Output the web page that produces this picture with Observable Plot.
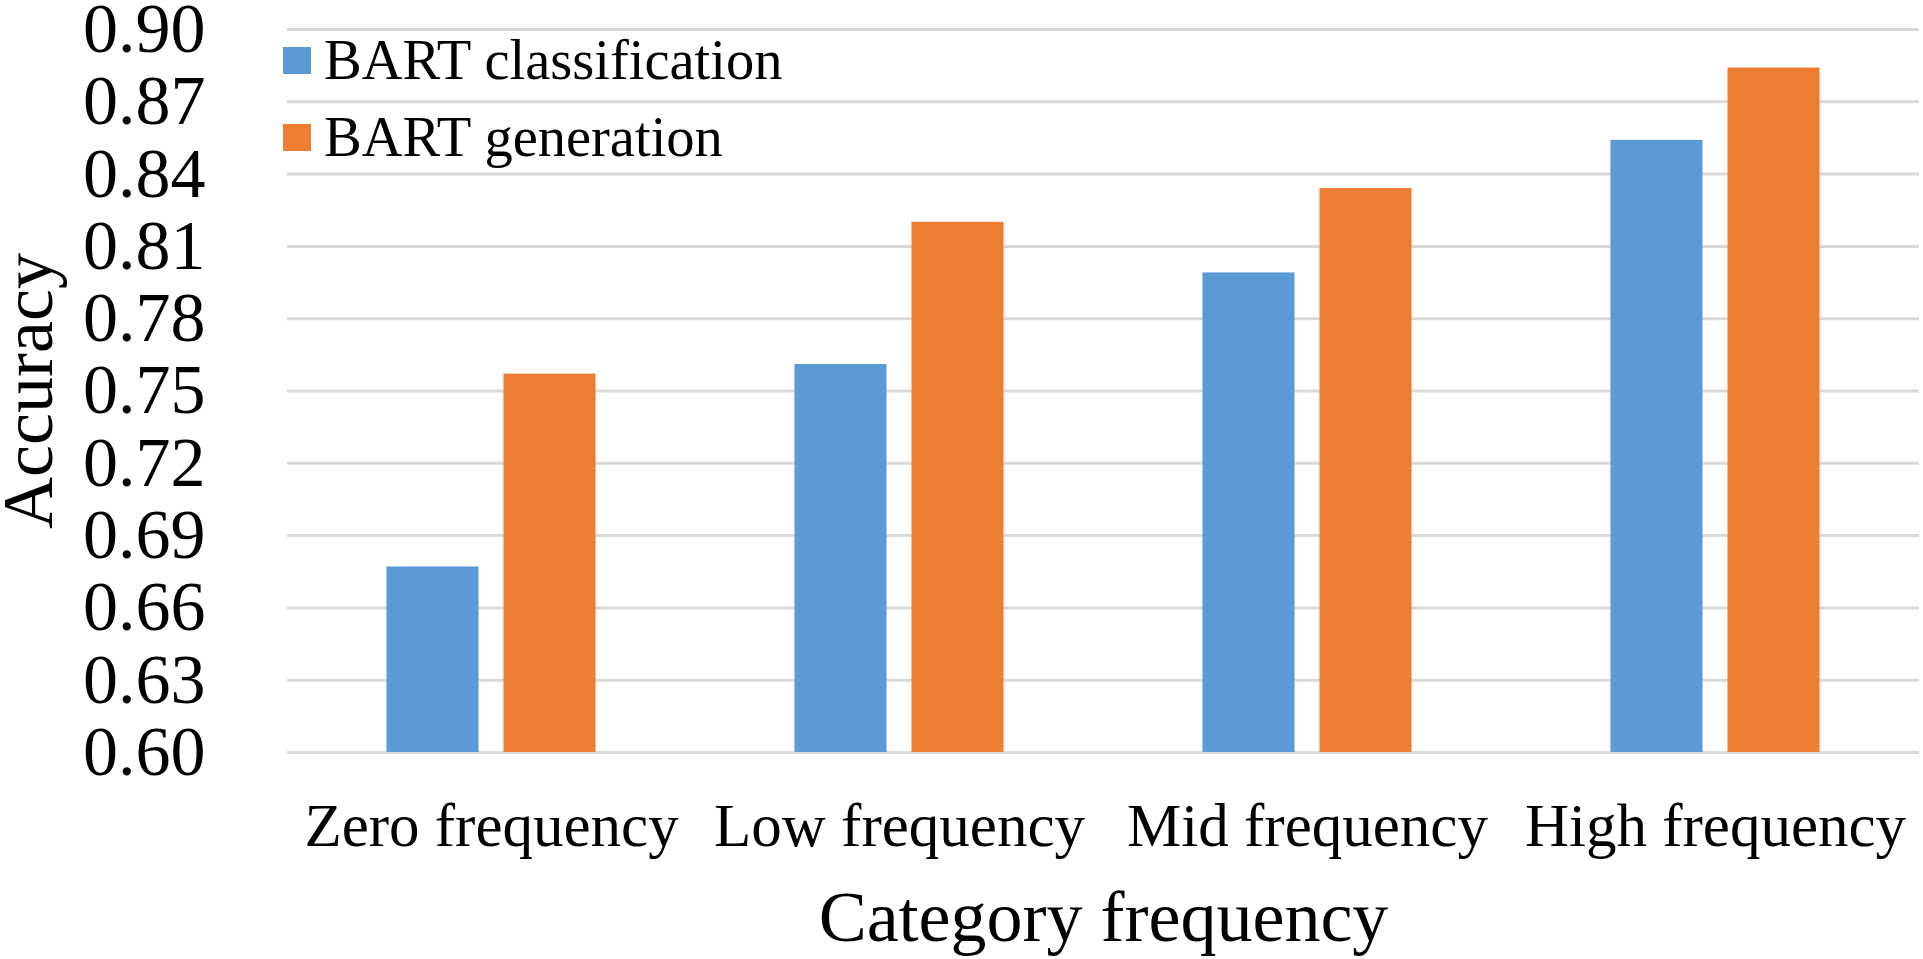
<!DOCTYPE html>
<html>
<head>
<meta charset="utf-8">
<script src="https://cdn.jsdelivr.net/npm/d3@7"></script>
<script src="https://cdn.jsdelivr.net/npm/@observablehq/plot@0.6"></script>
<style>
  html, body { margin: 0; padding: 0; background: #ffffff; overflow: hidden; }
  #wrap { position: relative; width: 1923px; height: 959px; font-family: "Liberation Serif", "Times New Roman", serif; }
  #legend { position: absolute; left: 0; top: 0; }
  .item { position: absolute; display: flex; align-items: center; white-space: nowrap; font-size: 56.5px; line-height: 56px; color: #000; }
  .sw { display: inline-block; width: 28px; height: 27px; margin-right: 13px; }
</style>
</head>
<body>
<div id="wrap"><div id="legend"></div></div>
<script>
const categories = ["Zero frequency", "Low frequency", "Mid frequency", "High frequency"];
const series = ["BART classification", "BART generation"];
const classification = [0.677, 0.761, 0.799, 0.854];
const generation = [0.757, 0.820, 0.834, 0.884];
const yTicks = [0.60, 0.63, 0.66, 0.69, 0.72, 0.75, 0.78, 0.81, 0.84, 0.87, 0.90];
const colors = ["#5B9BD5", "#ED7D31"];
const xTitle = "Category frequency";
const yTitle = "Accuracy";

const data = categories.flatMap((c, i) => [
  {category: c, series: series[0], value: classification[i]},
  {category: c, series: series[1], value: generation[i]}
]);

const chart = Plot.plot({
  width: 1923,
  height: 959,
  marginLeft: 286,
  marginRight: 4,
  marginTop: 29,
  marginBottom: 207,
  style: {fontFamily: "'Liberation Serif', 'Times New Roman', serif", background: "#ffffff", color: "#000000"},
  fx: {domain: categories, padding: 0, label: null},
  x: {domain: series, paddingInner: 0.2137, paddingOuter: 0.85, round: false, axis: null},
  y: {domain: [yTicks[0], yTicks[yTicks.length - 1]], label: null},
  color: {domain: series, range: colors},
  marks: [
    Plot.gridY(yTicks, {stroke: "#D9D9D9", strokeOpacity: 1, strokeWidth: 3}),
    Plot.barY(data, {fx: "category", x: "series", y1: yTicks[0], y2: "value", fill: "series"}),
    Plot.axisY(yTicks, {tickSize: 0, tickPadding: 82, fontSize: 70, tickFormat: d3.format(".2f"), label: null}),
    Plot.axisFx({anchor: "bottom", tickSize: 0, tickPadding: 50, fontSize: 61, label: null}),
    Plot.text([xTitle], {facet: "super", frameAnchor: "bottom", textAnchor: "middle", lineAnchor: "bottom", dy: 188, fontSize: 72}),
    Plot.text([yTitle], {facet: "super", frameAnchor: "left", textAnchor: "middle", lineAnchor: "bottom", rotate: -90, dx: -236, fontSize: 72})
  ]
});

document.getElementById("wrap").insertBefore(chart, document.getElementById("legend"));

const legend = document.getElementById("legend");
series.forEach((s, i) => {
  const item = document.createElement("div");
  item.className = "item";
  item.style.left = "283px";
  item.style.top = (32 + i * 77) + "px";
  const sw = document.createElement("span");
  sw.className = "sw";
  sw.style.background = colors[i];
  const label = document.createElement("span");
  label.textContent = s;
  item.appendChild(sw);
  item.appendChild(label);
  legend.appendChild(item);
});
</script>
</body>
</html>
